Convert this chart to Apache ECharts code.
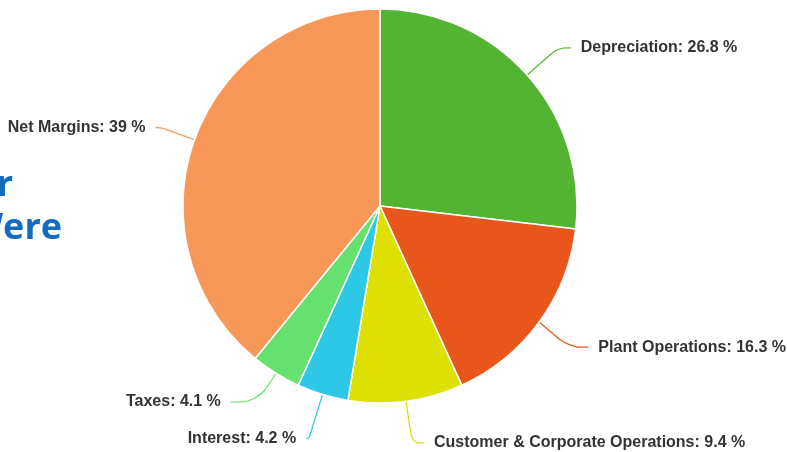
<!DOCTYPE html>
<html>
<head>
<meta charset="utf-8">
<script src="https://cdn.jsdelivr.net/npm/echarts@6/dist/echarts.min.js"></script>
<style>html,body{margin:0;padding:0;background:#fff;}#c{width:787px;height:452px;}</style>
</head>
<body>
<div id="c"></div>
<script>
const categories = ['Depreciation', 'Plant Operations', 'Customer & Corporate Operations', 'Interest', 'Taxes', 'Net Margins'];
const values = [26.8, 16.3, 9.4, 4.2, 4.1, 39];
const colors = ['#53b434', '#e8561b', '#dde000', '#2cc8e5', '#66e06e', '#f89858'];
const bgTextLines = ['r', 'Were'];
const lineLen = [41, 48, 46, 46, 34, 36];
const lineLen2 = [13, 20, 12, 3, 27, 5];

const chart = echarts.init(document.getElementById('c'));
chart.setOption({
  animation: false,
  backgroundColor: '#fff',
  graphic: [
    { type: 'text', right: 787 - 13, top: 168, style: { text: bgTextLines[0], fill: '#136cbf', font: 'bold 36px "Open Sans", sans-serif' } },
    { type: 'text', right: 787 - 62, top: 211, style: { text: bgTextLines[1], fill: '#136cbf', font: 'bold 36px "Open Sans", sans-serif' } }
  ],
  series: [{
    type: 'pie',
    center: [380, 206],
    radius: 197,
    startAngle: 90,
    clockwise: true,
    avoidLabelOverlap: true,
    itemStyle: { borderColor: '#fff', borderWidth: 1.5 },
    label: {
      show: true,
      overflow: 'none',
      formatter: p => p.name + ': ' + p.value + ' %',
      color: '#333',
      fontFamily: '"Liberation Sans", Arial, sans-serif',
      fontWeight: 'bold',
      fontSize: 16,
      distanceToLabelLine: 10
    },
    labelLine: { show: true, smooth: 0.4, lineStyle: { width: 1.2 } },
    data: categories.map((n, i) => ({
      name: n, value: values[i],
      itemStyle: { color: colors[i] },
      labelLine: { length: lineLen[i], length2: lineLen2[i] }
    }))
  }]
});
</script>
</body>
</html>
